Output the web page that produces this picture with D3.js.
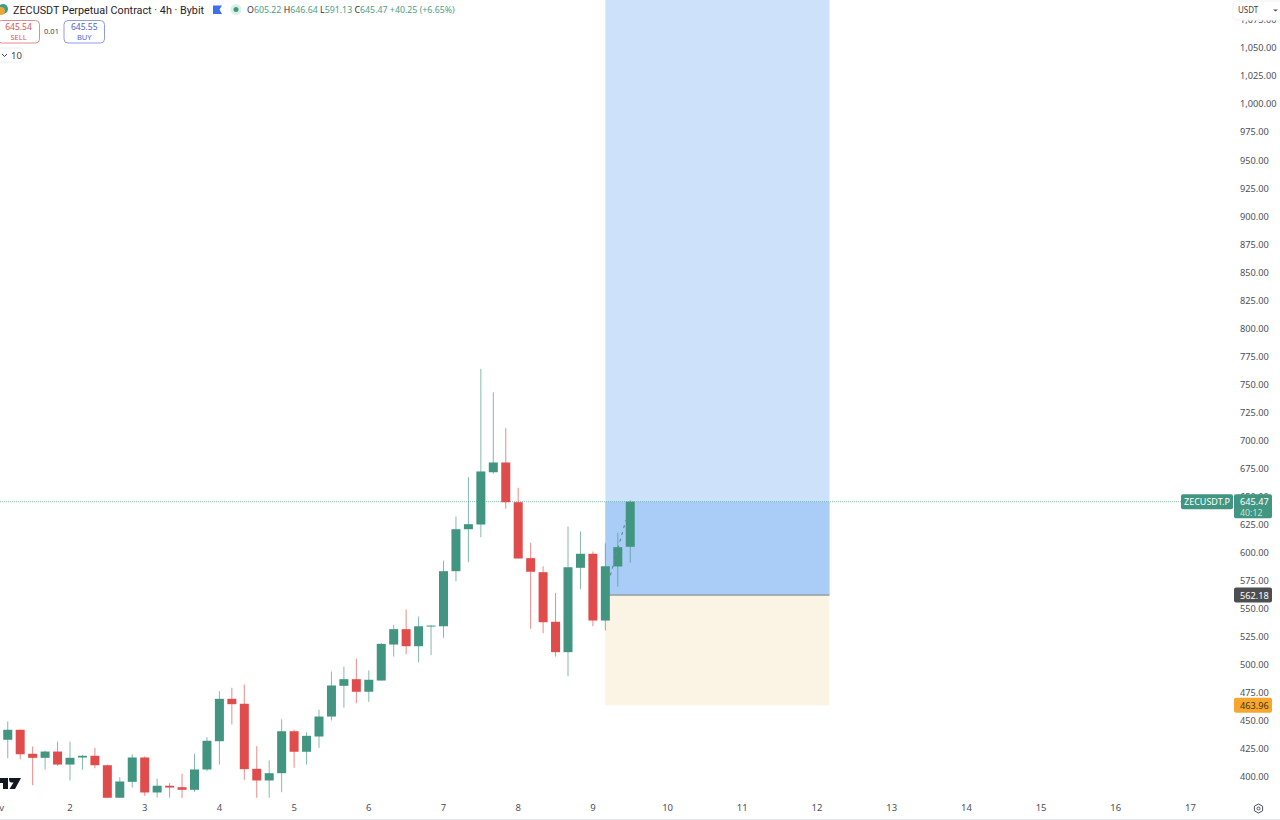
<!DOCTYPE html>
<html>
<head>
<meta charset="utf-8">
<script src="https://cdn.jsdelivr.net/npm/d3@7"></script>
<style>
html, body { margin: 0; padding: 0; background: #fff; overflow: hidden; }
svg { display: block; font-family: "Noto Sans", sans-serif; }
</style>
</head>
<body>
<div id="chart"></div>
<script>
// 4h candles, index 0 = first candle of the 2nd
var firstIndex = -6;
var opens = [404, 433.2, 442.1, 420.7, 417.1, 422.7, 411.1, 417.4, 418.9, 410.5, 381.5, 395.7, 417.4, 386.2, 392.2, 390.9, 388.6, 406.7, 431.9, 469.7, 465.3, 407.3, 396.9, 403.4, 440.8, 422.5, 436.1, 453.9, 481.3, 487.2, 476, 486, 518.1, 531.8, 516.6, 534.4, 534.4, 583.5, 620.9, 625.1, 671.7, 680.4, 645, 595.1, 582.6, 538.4, 511.3, 586.5, 599, 539.5, 587.7, 605.22];
var highs = [434, 449.5, 442.1, 427.2, 423.6, 431.6, 431.6, 419.8, 426, 411.1, 399.8, 420.3, 418.3, 398.7, 394.5, 402.9, 420.7, 435.5, 476.5, 479.5, 482.5, 427.5, 414.7, 451.5, 442.3, 439.9, 459.9, 494, 498.5, 505.4, 494.9, 519.3, 535.7, 549.3, 543.1, 535, 593, 632.2, 667.3, 763.9, 743, 711, 657.8, 608.8, 587.9, 564.2, 623.3, 618.9, 601, 608.4, 617.7, 646.64];
var lows = [400, 416.8, 415.7, 392.7, 406.7, 410, 396.9, 406.4, 407.8, 381.1, 381.5, 390.6, 383.2, 381.5, 381.5, 380.8, 386.8, 405.2, 411.1, 446.8, 397.5, 381.5, 381.5, 386.4, 408.2, 411.1, 426, 450.4, 461.8, 465.8, 467, 486, 507.4, 509.5, 502.3, 508.6, 524.1, 574.5, 591.5, 613.8, 670.3, 639.1, 594.8, 532.1, 528.2, 507.4, 489.9, 567.4, 534.4, 530.6, 569.8, 591.13];
var closes = [432.7, 442.1, 420.3, 417.1, 422.7, 411.1, 417.1, 418.9, 410.5, 381.5, 396, 417.4, 386.2, 392.2, 390.6, 388.6, 406.7, 432.3, 469.7, 464.9, 407, 396.9, 403.4, 440.8, 422.5, 436.7, 453.9, 481.6, 487.2, 476, 486.7, 518.7, 531.8, 516.6, 534.4, 535, 583.5, 620.9, 625.4, 672.4, 680.4, 645, 594.8, 583, 538, 511.3, 587, 599, 539.5, 587.9, 604.9, 645.47];

var dayLabels = ["Nov", "2", "3", "4", "5", "6", "7", "8", "9", "10", "11", "12", "13", "14", "15", "16", "17"];
var dayIndexes = [-6, 0, 6, 12, 18, 24, 30, 36, 42, 48, 54, 60, 66, 72, 78, 84, 90];
var priceTicks = [400, 425, 450, 475, 500, 525, 550, 575, 600, 625, 650, 675, 700, 725, 750, 775, 800, 825, 850, 875, 900, 925, 950, 975, 1000, 1025, 1050, 1075];

// long position drawing
var positionStart = 43, positionEnd = 61;
var entryPrice = 562.18, stopPrice = 463.96, targetPrice = 1120, lastPrice = 645.47;
// projection line on the last candles
var projectionIdx = [43.4, 44.65];
var projectionPrice = [579.8, 628.9];

var width = 1280, height = 820, paneBottom = 798, paneRight = 1232;
var green = "#429580", red = "#e04c4b";

var x = d3.scaleLinear().domain([0, 90]).range([70, 1190.5]);
var y = d3.scaleLinear().domain([400, 1000]).range([777, 104]);

var svg = d3.select("#chart").append("svg")
    .attr("width", width)
    .attr("height", height);

svg.append("clipPath").attr("id", "pane")
    .append("rect").attr("width", paneRight).attr("height", paneBottom);

var pane = svg.append("g").attr("clip-path", "url(#pane)");

// position boxes
var boxW = x(positionEnd) - x(positionStart);
pane.append("rect")
    .attr("x", x(positionStart)).attr("width", boxW)
    .attr("y", y(targetPrice)).attr("height", y(entryPrice) - y(targetPrice))
    .attr("fill", "#cde2fa");
pane.append("rect")
    .attr("x", x(positionStart)).attr("width", boxW)
    .attr("y", y(lastPrice)).attr("height", y(entryPrice) - y(lastPrice))
    .attr("fill", "#a9cdf6");
pane.append("rect")
    .attr("x", x(positionStart)).attr("width", boxW)
    .attr("y", y(entryPrice)).attr("height", y(stopPrice) - y(entryPrice))
    .attr("fill", "#fbf3e3");
pane.append("line")
    .attr("x1", x(positionStart)).attr("x2", x(positionEnd))
    .attr("y1", y(entryPrice)).attr("y2", y(entryPrice))
    .attr("stroke", "#77807f").attr("stroke-width", 1);

// last price line
pane.append("line")
    .attr("x1", 0).attr("x2", 1181)
    .attr("y1", y(lastPrice)).attr("y2", y(lastPrice))
    .attr("stroke", "#4fb096").attr("stroke-opacity", 0.7)
    .attr("stroke-dasharray", "1,1");

// candles
var candles = d3.range(opens.length);
var idx = function (i) { return x(i + firstIndex); };
var col = function (i) { return closes[i] >= opens[i] ? green : red; };

pane.selectAll(".wick")
    .data(candles)
    .enter().append("line")
    .attr("class", "wick")
    .attr("x1", idx).attr("x2", idx)
    .attr("y1", function (i) { return y(highs[i]); })
    .attr("y2", function (i) { return y(lows[i]); })
    .attr("stroke", col)
    .attr("stroke-opacity", 0.65);

pane.selectAll(".body")
    .data(candles)
    .enter().append("rect")
    .attr("class", "body")
    .attr("x", function (i) { return idx(i) - 4.5; })
    .attr("width", 9)
    .attr("y", function (i) { return y(Math.max(opens[i], closes[i])); })
    .attr("height", function (i) { return Math.max(1, Math.abs(y(opens[i]) - y(closes[i]))); })
    .attr("fill", col);

// dashed projection
pane.append("line")
    .attr("x1", x(projectionIdx[0])).attr("y1", y(projectionPrice[0]))
    .attr("x2", x(projectionIdx[1])).attr("y2", y(projectionPrice[1]))
    .attr("stroke", "#5f8f95").attr("stroke-width", 1.2)
    .attr("stroke-dasharray", "3,4");

// tradingview mark, cut by the left edge
svg.append("path")
    .attr("d", "M0 778H8V789H3V783H0Z M9 778L21 778L15 789H9.5L13.5 782.5H11.5A3 3 0 0 1 9 779.5Z")
    .attr("fill", "#131722");

// price axis
var yAxis = d3.axisRight(y)
    .tickValues(priceTicks)
    .tickSize(0)
    .tickPadding(0)
    .tickFormat(d3.format(",.2f"));
var yg = svg.append("g")
    .attr("transform", "translate(1240,0)")
    .call(yAxis);
yg.select(".domain").remove();
yg.selectAll("text")
    .attr("font-family", "'Noto Sans', sans-serif")
    .attr("font-size", 9.2)
    .attr("fill", "#4d5059");

// time axis
svg.selectAll(".day")
    .data(dayLabels)
    .enter().append("text")
    .attr("class", "day")
    .attr("x", function (d, i) { return x(dayIndexes[i]); })
    .attr("y", 811)
    .attr("text-anchor", "middle")
    .attr("font-size", 9.5)
    .attr("fill", "#4d5059")
    .text(function (d) { return d; });

svg.append("line")
    .attr("x1", 0).attr("x2", width).attr("y1", 819.5).attr("y2", 819.5)
    .attr("stroke", "#e6e7ea");

// settings icon
svg.append("path")
    .attr("d", "M1258.5 804L1262.6 806.2V810.8L1258.5 813L1254.4 810.8V806.2Z")
    .attr("fill", "none").attr("stroke", "#4d5059");
svg.append("circle")
    .attr("cx", 1258.5).attr("cy", 808.5).attr("r", 1.5)
    .attr("fill", "none").attr("stroke", "#4d5059");

// currency button
svg.append("rect")
    .attr("x", 1233).attr("y", 1).attr("width", 50).attr("height", 19)
    .attr("rx", 3).attr("fill", "#fff").attr("stroke", "#f0f1f3");
svg.append("text")
    .attr("x", 1238).attr("y", 13)
    .attr("font-size", 8).attr("fill", "#3c3f48")
    .text("USDT");
svg.append("path")
    .attr("d", "M1273 9.5L1275.5 11.5L1278 9.5Z")
    .attr("fill", "#555");

// price tags
function tag(tx, ty, w, h, fill) {
    svg.append("rect")
        .attr("x", tx).attr("y", ty).attr("width", w).attr("height", h)
        .attr("rx", 2).attr("fill", fill);
}
function tagText(tx, ty, s, fill, size) {
    svg.append("text")
        .attr("x", tx).attr("y", ty)
        .attr("font-size", size || 9.2).attr("fill", fill)
        .text(s);
}
var lastY = y(lastPrice);
tag(1181, lastY - 7.5, 52, 15, green);
tagText(1184, lastY + 3.5, "ZECUSDT.P", "#fff", 9);
tag(1234, lastY - 7.5, 38, 24, green);
tagText(1240, lastY + 3.5, "645.47", "#fff");
tagText(1240, lastY + 14.5, "40:12", "#c5e2d9", 8.8);
tag(1234, y(entryPrice) - 7.5, 38, 15, "#4e4e50");
tagText(1240, y(entryPrice) + 3.5, "562.18", "#fff");
tag(1234, y(stopPrice) - 7.5, 38, 15, "#f7a72e");
tagText(1240, y(stopPrice) + 3.5, "463.96", "#4a3510");

// header
svg.append("circle").attr("cx", 3).attr("cy", 9).attr("r", 5).attr("fill", "#3d9c8c");
svg.append("circle").attr("cx", 1).attr("cy", 11).attr("r", 4).attr("fill", "#e8a93a");
svg.append("text")
    .attr("x", 13).attr("y", 14)
    .attr("font-family", "Roboto, sans-serif")
    .attr("font-size", 10.8).attr("fill", "#1f222b")
    .text("ZECUSDT Perpetual Contract · 4h · Bybit");
svg.append("path")
    .attr("d", "M213 5.5H222L219.5 9.5L222 14H213Z")
    .attr("fill", "#3f6ff0");
svg.append("circle").attr("cx", 236).attr("cy", 9.5).attr("r", 5.5).attr("fill", "#dcefe9");
svg.append("circle").attr("cx", 236).attr("cy", 9.5).attr("r", 2.5).attr("fill", "#3c9a80");

var legendText = svg.append("text")
    .attr("x", 247).attr("y", 12.5)
    .attr("font-size", 8.8);
[["O", "605.22"], ["H", "646.64"], ["L", "591.13"], ["C", "645.47"]].forEach(function (p) {
    legendText.append("tspan").attr("fill", "#2e3139").text(p[0]);
    legendText.append("tspan").attr("fill", "#4c9e87").text(p[1] + "  ");
});
legendText.append("tspan").attr("fill", "#4c9e87").text("+40.25 (+6.65%)");

// buy and sell buttons
function button(bx, w, price, label, stroke, fill) {
    svg.append("rect")
        .attr("x", bx).attr("y", 20.5).attr("width", w).attr("height", 22.5)
        .attr("rx", 4).attr("fill", "#fff").attr("stroke", stroke);
    svg.append("text")
        .attr("x", bx + w / 2).attr("y", 30)
        .attr("text-anchor", "middle").attr("font-size", 8.5).attr("fill", fill)
        .text(price);
    svg.append("text")
        .attr("x", bx + w / 2).attr("y", 40)
        .attr("text-anchor", "middle").attr("font-size", 7.5).attr("fill", fill)
        .text(label);
}
button(-2.5, 42, "645.54", "SELL", "#e58a8c", "#d9534f");
button(64, 40.5, "645.55", "BUY", "#8f9be8", "#4a63d0");
svg.append("text")
    .attr("x", 51.5).attr("y", 34)
    .attr("text-anchor", "middle").attr("font-size", 7.5).attr("fill", "#3c3f48")
    .text("0.01");

// quantity box
svg.append("rect")
    .attr("x", -2).attr("y", 48).attr("width", 25).attr("height", 14)
    .attr("rx", 2).attr("fill", "#fff").attr("stroke", "#eceef1");
svg.append("path")
    .attr("d", "M2 54L4.5 56.5L7 54")
    .attr("fill", "none").attr("stroke", "#3c3f48");
svg.append("text")
    .attr("x", 11).attr("y", 58.5)
    .attr("font-size", 9.5).attr("fill", "#3c3f48")
    .text("10");
</script>
</body>
</html>
